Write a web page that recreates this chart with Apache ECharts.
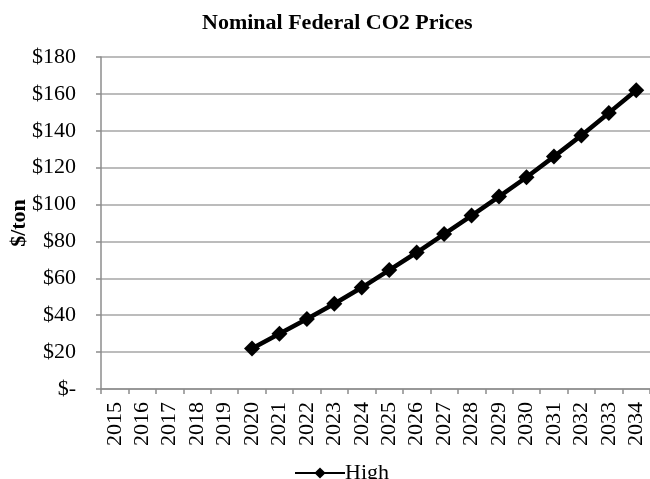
<!DOCTYPE html>
<html>
<head>
<meta charset="utf-8">
<script src="https://cdn.jsdelivr.net/npm/echarts@6/dist/echarts.min.js"></script>
<style>
html,body{margin:0;padding:0;background:#fff;}
#c{width:650px;height:479px;}
</style>
</head>
<body>
<div id="c"></div>
<script>
var years = ['2015','2016','2017','2018','2019','2020','2021','2022','2023','2024','2025','2026','2027','2028','2029','2030','2031','2032','2033','2034'];
var highPrices = [null,null,null,null,null,22,30,38,46.2,55,64.5,74,84,94,104.3,114.8,126,137.5,149.7,162];
var yTicks = [0,20,40,60,80,100,120,140,160,180];

var font = 'Liberation Serif';
var chart = echarts.init(document.getElementById('c'));
chart.setOption({
  animation: false,
  backgroundColor: '#fff',
  title: {
    text: 'Nominal Federal CO2 Prices',
    left: 197,
    top: 7,
    textStyle: {fontFamily: font, fontWeight: 'bold', fontSize: 22, color: '#000'}
  },
  legend: {
    data: ['High'],
    left: 289,
    top: 457,
    itemWidth: 50,
    itemHeight: 14,
    itemGap: 0,
    textStyle: {fontFamily: font, fontSize: 22, color: '#000', padding: [0,0,0,-5]}
  },
  grid: {left: 101, right: 0, top: 57, bottom: 90, containLabel: false, outerBoundsMode: 'none'},
  xAxis: {
    type: 'category',
    data: years,
    boundaryGap: true,
    axisLine: {lineStyle: {color: '#8c8c8c', width: 1.5}},
    axisTick: {show: true, length: 5, alignWithLabel: false, lineStyle: {color: '#8c8c8c', width: 1.5}},
    axisLabel: {rotate: 90, margin: 13, interval: 0, fontFamily: font, fontSize: 22, color: '#000'}
  },
  yAxis: {
    type: 'value',
    min: yTicks[0],
    max: yTicks[yTicks.length - 1],
    interval: 20,
    name: '$/ton',
    nameLocation: 'middle',
    nameGap: 71,
    nameRotate: 90,
    nameMoveOverlap: false,
    nameTextStyle: {fontFamily: font, fontWeight: 'bold', fontSize: 22, color: '#000'},
    axisLine: {show: true, lineStyle: {color: '#8c8c8c', width: 1.5}},
    axisTick: {show: true, length: 5, lineStyle: {color: '#8c8c8c', width: 1.5}},
    splitLine: {show: true, lineStyle: {color: '#a6a6a6', width: 1.5}},
    axisLabel: {
      margin: 25,
      fontFamily: font, fontSize: 22, color: '#000',
      formatter: function (v) { return v === 0 ? '$-' : '$' + v; }
    }
  },
  series: [{
    name: 'High',
    type: 'line',
    data: highPrices,
    symbol: 'diamond',
    symbolSize: 16,
    connectNulls: false,
    lineStyle: {color: '#000', width: 4.5},
    itemStyle: {color: '#000'}
  }]
});
</script>
</body>
</html>
